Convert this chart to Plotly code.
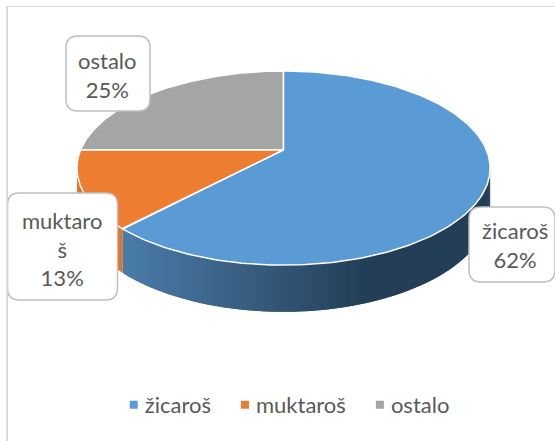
import numpy as np
import plotly.graph_objects as go

# values
categories = ["žicaroš", "muktaroš", "ostalo"]
shares = [62, 13, 25]
box_lines = ["žicaroš", "muktaro<br>š", "ostalo"]

colors = ["#5B9BD5", "#ED7D31", "#A5A5A5"]
orange_side = "#DB7530"
text_color = "#595959"
font = "Lato"
fsz = 22

# pie projection, in pixels of the 555x441 page
cx, cy = 283.5, 150
sx, sy, persp, depth = 203, 93.7, 0.186, 38

# gradient of the blue side: x position, rgb
side_x = [122, 250, 370]
side_r = [74, 56, 35]
side_g = [125, 93, 62]
side_b = [170, 128, 86]


def project(frac, h=0):
    # frac of the full turn, clockwise from 12 o'clock
    t = 2 * np.pi * np.asarray(frac)
    u, v = np.sin(t), -np.cos(t)
    w = 1 - persp * v
    return cx + sx * u / w, cy + (sy * v + h) / w


def visible(frac):
    return -np.cos(2 * np.pi * frac) >= persp - 0.02


def side_color(x):
    r = np.interp(x, side_x, side_r)
    g = np.interp(x, side_x, side_g)
    b = np.interp(x, side_x, side_b)
    return f"rgb({r:.0f},{g:.0f},{b:.0f})"


def polygon(xs, ys, color, line=None, lw=0):
    return go.Scatter(
        x=xs, y=ys, mode="lines", fill="toself", fillcolor=color,
        line=dict(color=line or color, width=lw),
        hoverinfo="skip", showlegend=False,
    )


fig = go.Figure()

edges = np.cumsum([0] + shares) / sum(shares)

# orange side, mostly behind the label
f = np.linspace(edges[1], edges[2], 60)
f = f[visible(f)]
x0, y0 = project(f)
x1, y1 = project(f, depth)
fig.add_trace(polygon(np.r_[x0, x1[::-1]], np.r_[y0, y1[::-1]], orange_side))

# blue side in strips for the gradient, each one overlaps the next to hide seams.
# drawn from the tip towards the right so the overlap stays on one side
f = np.linspace(edges[0], edges[1], 240)
f = f[visible(f)][::-1]
for a, b in zip(f[:-2], f[2:]):
    pair = np.array([a, b])
    x0, y0 = project(pair)
    x1, y1 = project(pair, depth)
    col = side_color(x0.mean())
    fig.add_trace(polygon(np.r_[x0, x1[::-1]], np.r_[y0, y1[::-1]], col))

# top of the pie
for i in [2, 1, 0]:
    f = np.linspace(edges[i], edges[i + 1], 200)
    x0, y0 = project(f)
    fig.add_trace(polygon(np.r_[cx, x0, cx], np.r_[cy, y0, cy], colors[i], "white", 1.5))

# legend entries
for name, col in zip(categories, colors):
    fig.add_trace(go.Scatter(
        x=[None], y=[None], mode="markers", name=name,
        marker=dict(symbol="square", size=8, color=col),
    ))


def rounded(x0, y0, x1, y1, r=12):
    return (f"M{x0 + r},{y0} L{x1 - r},{y0} Q{x1},{y0} {x1},{y0 + r} "
            f"L{x1},{y1 - r} Q{x1},{y1} {x1 - r},{y1} L{x0 + r},{y1} "
            f"Q{x0},{y1} {x0},{y1 - r} L{x0},{y0 + r} Q{x0},{y0} {x0 + r},{y0} Z")


# label boxes: left, top, right, bottom, text x, text y
boxes = [
    (469, 207, 555, 282, 514.5, 245),
    (7.5, 193, 117.5, 300, 62, 249),
    (66, 36, 150, 111, 107.5, 75),
]
for (x0, y0, x1, y1, tx, ty), line, share in zip(boxes, box_lines, shares):
    fig.add_shape(type="path", path=rounded(x0, y0, x1, y1), xref="x", yref="y",
                  fillcolor="white", line=dict(color="#BFBFBF", width=1.5), layer="above")
    fig.add_annotation(x=tx, y=ty, xref="x", yref="y", text=f"{line}<br>{share}%",
                       showarrow=False, align="center",
                       font=dict(family=font, size=fsz, color=text_color))

# chart frame, only top and left are in the crop
fig.add_shape(type="line", xref="x", yref="y", x0=6, y0=6.5, x1=555, y1=6.5,
              line=dict(color="#D9D9D9", width=1))
fig.add_shape(type="line", xref="x", yref="y", x0=7, y0=6, x1=7, y1=441,
              line=dict(color="#D9D9D9", width=2))

fig.update_layout(
    width=555, height=441,
    margin=dict(l=0, r=0, t=0, b=0),
    paper_bgcolor="white", plot_bgcolor="white",
    xaxis=dict(range=[0, 555], visible=False, fixedrange=True),
    yaxis=dict(range=[441, 0], visible=False, fixedrange=True),
    showlegend=True,
    legend=dict(
        orientation="h", x=0.504, y=0.082, xanchor="center", yanchor="middle",
        font=dict(family=font, size=fsz, color=text_color),
        itemwidth=30, bgcolor="rgba(0,0,0,0)",
    ),
)

# no margin on the page, and legend squares closer to their text than plotly allows
post = """
document.body.style.margin = '0';
document.body.style.overflow = 'hidden';
document.querySelectorAll('.legendsymbols').forEach(function (g) {
    g.setAttribute('transform', 'translate(9,0)');
});
"""
fig.write_html("out.html", config=dict(displayModeBar=False), post_script=post)
